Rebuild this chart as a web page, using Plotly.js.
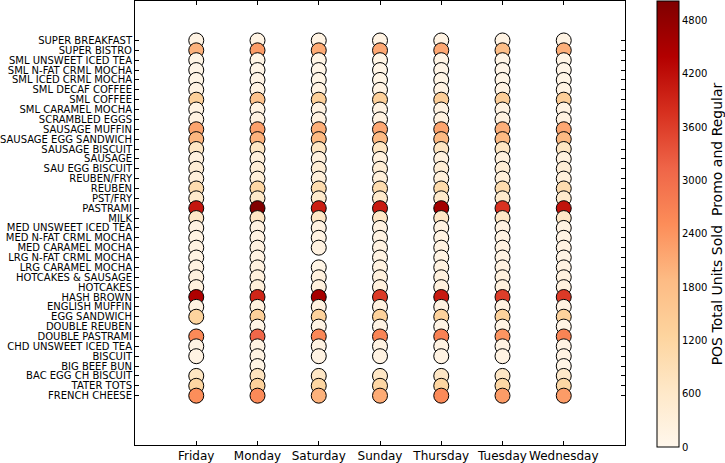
<!DOCTYPE html>
<html>
<head>
<meta charset="utf-8">
<script src="https://cdn.plot.ly/plotly-3.0.1.min.js"></script>
<style>html,body{margin:0;padding:0;background:#fff;}#chart{width:725px;height:463px;}</style>
</head>
<body>
<div id="chart"></div>
<script>
// Categories listed top to bottom as shown
const items = [
  "SUPER BREAKFAST","SUPER BISTRO","SML UNSWEET ICED TEA","SML N-FAT CRML MOCHA",
  "SML ICED CRML MOCHA","SML DECAF COFFEE","SML COFFEE","SML CARAMEL MOCHA",
  "SCRAMBLED EGGS","SAUSAGE MUFFIN","SAUSAGE EGG SANDWICH","SAUSAGE BISCUIT",
  "SAUSAGE","SAU EGG BISCUIT","REUBEN/FRY","REUBEN","PST/FRY","PASTRAMI","MILK",
  "MED UNSWEET ICED TEA","MED N-FAT CRML MOCHA","MED CARAMEL MOCHA",
  "LRG N-FAT CRML MOCHA","LRG CARAMEL MOCHA","HOTCAKES & SAUSAGE","HOTCAKES",
  "HASH BROWN","ENGLISH MUFFIN","EGG SANDWICH","DOUBLE REUBEN","DOUBLE PASTRAMI",
  "CHD UNSWEET ICED TEA","BISCUIT","BIG BEEF BUN","BAC EGG CH BISCUIT",
  "TATER TOTS","FRENCH CHEESE"
];
const days = ["Friday","Monday","Saturday","Sunday","Thursday","Tuesday","Wednesday"];

// Values per day, same order as items (null = not sold / missing)
const friday    = [150,2000,100,80,100,150,1350,150,200,2200,1950,700,250,400,300,1000,550,4100,650,200,150,200,150,200,250,250,4450,200,1250,null,2550,150,150,null,700,1200,2500];
const monday    = [150,2300,100,90,110,150,1700,150,200,2250,2000,700,300,400,350,1150,600,5000,700,200,150,200,150,200,250,300,3900,250,1350,100,3100,150,150,100,750,1300,2550];
const saturday  = [150,2100,100,80,100,150,1350,150,200,2050,1900,700,250,400,300,1000,550,4000,650,200,150,200,null,100,250,250,4550,200,1300,120,2600,150,150,null,650,1200,2000];
const sunday    = [150,2150,100,80,100,150,1350,150,200,2150,1900,700,250,400,300,1000,550,4050,650,200,150,200,150,200,250,250,3650,200,1300,120,2650,150,150,null,650,1150,2100];
const thursday  = [150,2150,100,80,100,150,1400,150,200,2200,1900,700,250,400,300,1050,550,4600,650,200,150,200,150,200,250,250,4050,200,1300,120,2700,150,150,null,650,1200,2550];
const tuesday   = [150,1800,100,80,100,150,1400,150,200,2050,1900,700,250,400,300,1000,550,3750,650,200,150,200,150,200,250,250,3600,200,1300,120,2400,150,150,null,650,1150,2300];
const wednesday = [150,2050,100,80,100,150,1400,150,200,2150,1900,700,250,400,300,1000,550,4150,650,200,150,200,150,200,250,250,3650,200,1300,120,2650,150,150,100,600,1150,2300];
const series = [friday,monday,saturday,sunday,thursday,tuesday,wednesday];

const colorTicks = [0,600,1200,1800,2400,3000,3600,4200,4800];

const xs=[], ys=[], cs=[];
series.forEach((vals, di) => {
  vals.forEach((v, ii) => {
    if (v !== null) { xs.push(days[di]); ys.push(items[ii]); cs.push(v); }
  });
});

const orrd = [
  [0,"#fff7ec"],[0.125,"#fee8c8"],[0.25,"#fdd49e"],[0.375,"#fdbb84"],
  [0.5,"#fc8d59"],[0.625,"#ef6548"],[0.75,"#d7301f"],[0.875,"#b30000"],[1,"#7f0000"]
];

const plotL = 135, plotR = 625;
const trace = {
  type: "scatter", mode: "markers", x: xs, y: ys,
  marker: {
    size: 15, color: cs, colorscale: orrd, cmin: 0, cmax: 5020,
    line: {color: "#000", width: 1},
    colorbar: {
      x: (657 - plotL) / (plotR - plotL), xref: "paper", xanchor: "left", xpad: 0,
      thickness: 22, thicknessmode: "pixels",
      len: 1.005, lenmode: "fraction", y: 1, yanchor: "top", ypad: 0,
      outlinecolor: "#000", outlinewidth: 1,
      tickvals: colorTicks, ticktext: colorTicks.map(String),
      ticks: "", tickfont: {family: "DejaVu Sans", size: 10, color: "#000"},
      title: {text: "POS Total Units Sold  Promo and Regular", side: "right",
              font: {family: "DejaVu Sans", size: 14, color: "#000"}}
    }
  },
  hoverinfo: "x+y+text"
};

const layout = {
  width: 725, height: 463,
  margin: {l: plotL, r: 725 - plotR, t: 1, b: 18, autoexpand: false},
  paper_bgcolor: "#fff", plot_bgcolor: "#fff",
  showlegend: false,
  font: {family: "DejaVu Sans", color: "#000"},
  xaxis: {
    type: "category", categoryorder: "array", categoryarray: days,
    tickmode: "array", tickvals: days, ticktext: days, tickangle: 0,
    range: [-1, 7], showgrid: false, zeroline: false, automargin: false,
    showline: true, linecolor: "#000", linewidth: 1, mirror: "allticks",
    ticks: "inside", ticklen: 4, tickcolor: "#000",
    tickfont: {family: "DejaVu Sans", size: 12, color: "#000"}
  },
  yaxis: {
    type: "category", categoryorder: "array", categoryarray: items.slice().reverse(),
    tickmode: "array", tickvals: items, ticktext: items,
    range: [-5, 40], showgrid: false, zeroline: false, automargin: false,
    showline: true, linecolor: "#000", linewidth: 1, mirror: "allticks",
    ticks: "inside", ticklen: 4, tickcolor: "#000",
    tickfont: {family: "DejaVu Sans", size: 10, color: "#000"}
  }
};

Plotly.newPlot("chart", [trace], layout, {displayModeBar: false, staticPlot: true});
</script>
</body>
</html>
